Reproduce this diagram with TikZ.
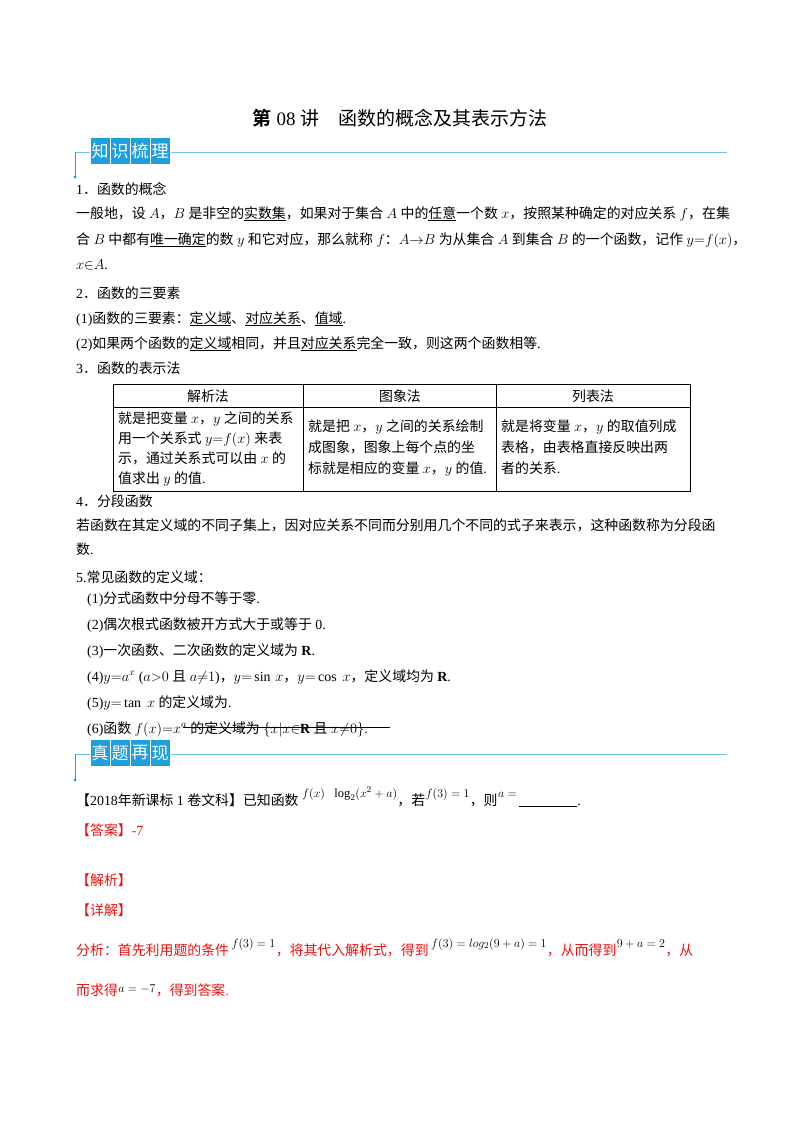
\documentclass[tikz,border=0pt]{standalone}
\usepackage{fontspec}
\setmainfont{Liberation Serif}
\newfontfamily\cjkfont{Noto Sans CJK SC}[BoldFont={Noto Sans CJK SC Bold}]
\XeTeXinterchartokenstate=1
\newXeTeXintercharclass\CJKcls
\makeatletter
\count@="4E00 \loop \XeTeXcharclass\count@=\CJKcls \advance\count@ 1 \ifnum\count@<"A000 \repeat
\count@="3000 \loop \XeTeXcharclass\count@=\CJKcls \advance\count@ 1 \ifnum\count@<"3040 \repeat
\count@="FF00 \loop \XeTeXcharclass\count@=\CJKcls \advance\count@ 1 \ifnum\count@<"FFF0 \repeat
\makeatother
\XeTeXinterchartoks 0 \CJKcls = {\cjkfont}
\XeTeXinterchartoks 4095 \CJKcls = {\cjkfont}
\XeTeXinterchartoks \CJKcls 0 = {\normalfont}
\XeTeXinterchartoks \CJKcls 4095 = {\normalfont}
\definecolor{hblue}{HTML}{1E9FE0}
\definecolor{hline}{HTML}{6CC4EA}
\definecolor{ared}{HTML}{F01010}
\tikzset{t/.style={anchor=base west,inner sep=0,font=\fontsize{13.9}{16}\selectfont},
 r/.style={t,text=ared},
 sm/.style={anchor=base west,inner sep=0,font=\fontsize{12.5}{14}\selectfont},
 badge/.style={fill=hblue,draw=white,line width=0.8,minimum width=20,minimum height=27,inner sep=0,text=white,font=\fontsize{17}{19}\selectfont}}
\begin{document}
\begin{tikzpicture}[x=1pt,y=-1pt]
\useasboundingbox (0,0) rectangle (800,1132);
\node[inner sep=0,font=\fontsize{19}{22}\selectfont\bfseries] (title) at (400,118) {第 08 讲\quad 函数的概念及其表示方法};
% header 1
\draw[hline,line width=1] (75,152) -- (727,152);
\draw[hblue,line width=1] (75,152) -- (75,177);
\fill[hblue] (75,177) circle (1.6);
\foreach \c [count=\i] in {知,识,梳,理} \node[badge] (hA\i) at (80+20*\i,151) {\c};
\node[t] (l1) at (76,194) {1．函数的概念};
\node[t] (l2) at (76,218) {一般地，设 $A$，$B$ 是非空的\underline{实数集}，如果对于集合 $A$ 中的\underline{任意}一个数 $x$，按照某种确定的对应关系 $f$，在集};
\node[t] (l3) at (76,244) {合 $B$ 中都有\underline{唯一确定}的数 $y$ 和它对应，那么就称 $f$：$A{\rightarrow}B$ 为从集合 $A$ 到集合 $B$ 的一个函数，记作 $y{=}f(x)$，};
\node[t] (l4) at (76,269) {$x{\in}A$.};
\node[t] (l5) at (76,298) {2．函数的三要素};
\node[t] (l6) at (76,323) {(1)函数的三要素：\underline{定义域}、\underline{对应关系}、\underline{值域}.};
\node[t] (l7) at (76,348) {(2)如果两个函数的\underline{定义域}相同，并且\underline{对应关系}完全一致，则这两个函数相等.};
\node[t] (l8) at (76,373) {3．函数的表示法};
% table
\draw[line width=0.6] (113,384) rectangle (690,491);
\draw[line width=0.6] (113,407) -- (690,407) (303,384) -- (303,491) (496,384) -- (496,491);
\node[inner sep=0,font=\fontsize{13.9}{16}\selectfont] (h1) at (208,396) {解析法};
\node[inner sep=0,font=\fontsize{13.9}{16}\selectfont] (h2) at (400,396) {图象法};
\node[inner sep=0,font=\fontsize{13.9}{16}\selectfont] (h3) at (593,396) {列表法};
\node[t] (c11) at (118,423) {就是把变量 $x$，$y$ 之间的关系};
\node[t] (c12) at (118,443) {用一个关系式 $y{=}f(x)$ 来表};
\node[t] (c13) at (118,463) {示，通过关系式可以由 $x$ 的};
\node[t] (c14) at (118,483) {值求出 $y$ 的值.};
\node[t] (c21) at (308,431) {就是把 $x$，$y$ 之间的关系绘制};
\node[t] (c22) at (308,452) {成图象，图象上每个点的坐};
\node[t] (c23) at (308,473) {标就是相应的变量 $x$，$y$ 的值.};
\node[t] (c31) at (501,431) {就是将变量 $x$，$y$ 的取值列成};
\node[t] (c32) at (501,452) {表格，由表格直接反映出两};
\node[t] (c33) at (501,473) {者的关系.};
\node[t] (l9) at (76,506) {4．分段函数};
\node[t] (l10) at (76,530) {若函数在其定义域的不同子集上，因对应关系不同而分别用几个不同的式子来表示，这种函数称为分段函};
\node[t] (l11) at (76,554) {数.};
\node[t] (l12) at (76,582) {5.常见函数的定义域：};
\node[t] (p1) at (87,603) {(1)分式函数中分母不等于零.};
\node[t] (p2) at (87,629) {(2)偶次根式函数被开方式大于或等于 0.};
\node[t] (p3) at (87,655) {(3)一次函数、二次函数的定义域为 \textbf{R}.};
\node[t] (p4) at (87,681) {(4)$y{=}a^x$ ($a{>}0$ 且 $a{\neq}1$)，$y{=}\sin\,x$，$y{=}\cos\ x$，定义域均为 \textbf{R}.};
\node[t] (p5) at (87,707) {(5)$y{=}\tan\ x$ 的定义域为.};
\node[t] (p6) at (87,733) {(6)函数 $f(x){=}x^a$ 的定义域为 $\{x|x{\in}\textbf{R}$ 且 $x{\neq}0\}$.};
\draw[line width=0.8] (183,727) -- (390,727);
% header 2
\draw[hline,line width=1] (75,754) -- (727,754);
\draw[hblue,line width=1] (75,754) -- (75,780);
\fill[hblue] (75,780) circle (1.6);
\foreach \c [count=\i] in {真,题,再,现} \node[badge] (hB\i) at (80+20*\i,753) {\c};
\node[t] (q) at (76,805) {【2018年新课标 1 卷文科】已知函数};
\node[sm] (q1) at (q.base east) [yshift=8] {\ $f(x)$\ \ \ $\log_2(x^2+a)$};
\node[t] (q2) at (q1.base east) [yshift=-8] {，若};
\node[sm] (q3) at (q2.base east) [yshift=8] {$f(3)=1$};
\node[t] (q4) at (q3.base east) [yshift=-8] {，则};
\node[sm] (q5) at (q4.base east) [yshift=8] {$a=$};
\node[t] (q6) at (q5.base east) [yshift=-8] {\,\underline{\hspace{58pt}}.};
\node[r] (ans) at (76,835) {【答案】-7};
\node[r] (jx) at (76,885) {【解析】};
\node[r] (xj) at (76,915) {【详解】};
\node[r] (a1) at (76,955) {分析：首先利用题的条件};
\node[sm] (a2) at (a1.base east) [yshift=8] {\,$f(3)=1$};
\node[r] (a3) at (a2.base east) [yshift=-8] {，将其代入解析式，得到};
\node[sm] (a4) at (a3.base east) [yshift=8] {\,$f(3)=log_2(9+a)=1$};
\node[r] (a5) at (a4.base east) [yshift=-8] {，从而得到};
\node[sm] (a6) at (a5.base east) [yshift=8] {$9+a=2$};
\node[r] (a7) at (a6.base east) [yshift=-8] {，从};
\node[r] (b1) at (76,995) {而求得};
\node[sm] (b2) at (b1.base east) [yshift=3] {$a=-7$};
\node[r] (b3) at (b2.base east) [yshift=-3] {，得到答案.};
\end{tikzpicture}
\end{document}
